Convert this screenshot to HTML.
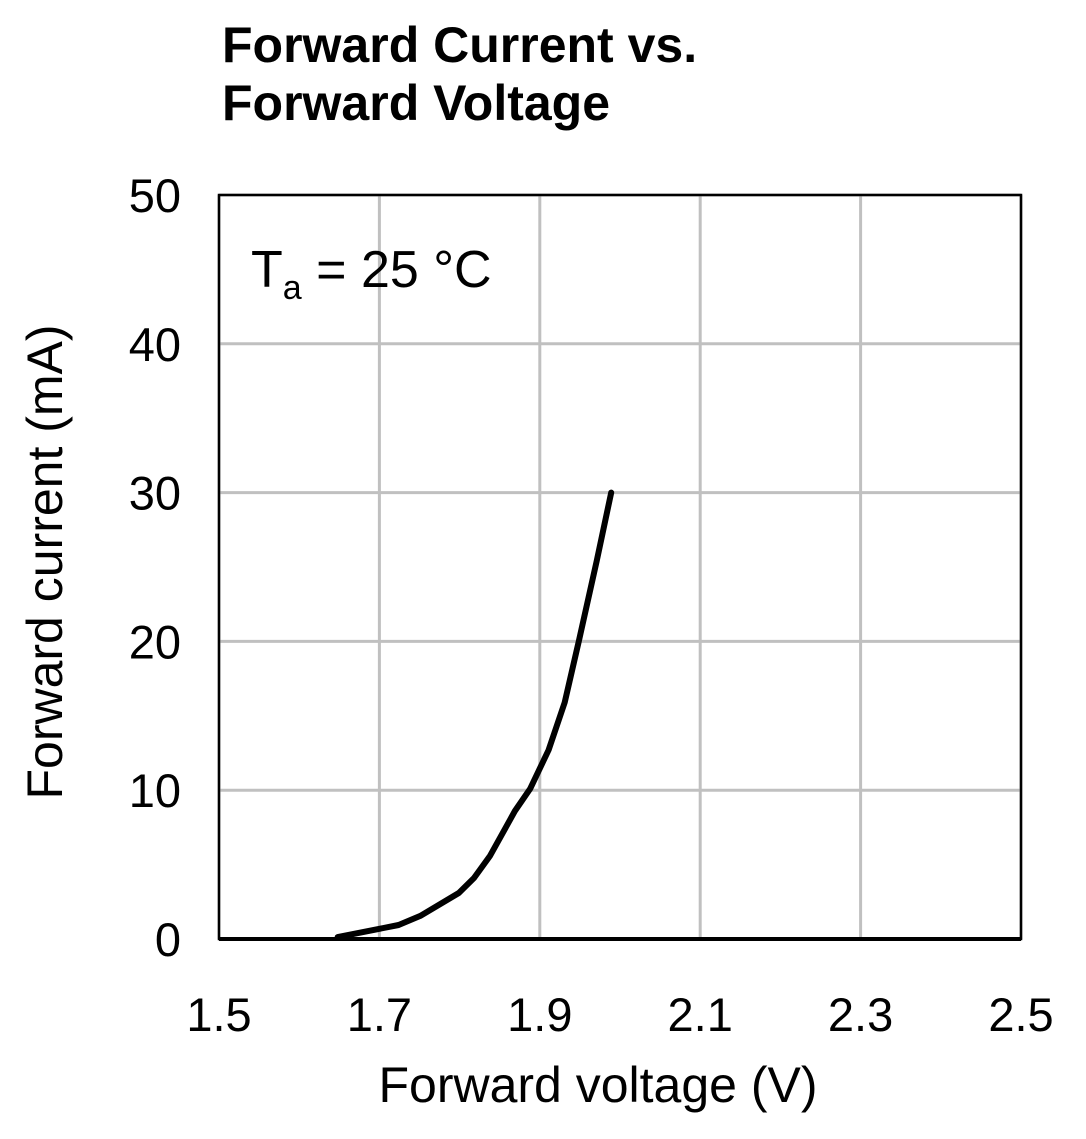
<!DOCTYPE html>
<html><head><meta charset="utf-8"><style>
body{margin:0;background:#fff;}
svg{display:block;font-family:"Liberation Sans",Arial,sans-serif;}
</style></head><body>
<svg id="chart" width="1086" height="1139" viewBox="0 0 1086 1139">
<text x="222" y="62" font-size="50" font-weight="bold">Forward Current vs.</text>
<text x="222" y="120" font-size="50" font-weight="bold">Forward Voltage</text>
<g id="grid"></g>
<g id="ticks"></g>
<rect x="219" y="195" width="802" height="744" fill="none" stroke="#000" stroke-width="2.5"/>
<line x1="219" y1="939" x2="1021" y2="939" stroke="#000" stroke-width="4"/>
<text x="251" y="287" font-size="52">T<tspan font-size="34" dy="12">a</tspan><tspan dy="-12"> = 25 °C</tspan></text>
<path id="curve" fill="none" stroke="#000" stroke-width="6" stroke-linejoin="round" stroke-linecap="round"/>
<text x="598" y="1102" font-size="50" text-anchor="middle">Forward voltage (V)</text>
<text transform="translate(62,562) rotate(-90)" font-size="50" text-anchor="middle">Forward current (mA)</text>
</svg>
<script>
const xTicks=[1.5,1.7,1.9,2.1,2.3,2.5];
const xTickLabels=["1.5","1.7","1.9","2.1","2.3","2.5"];
const yTicks=[0,10,20,30,40,50];
const yTickLabels=["0","10","20","30","40","50"];
const voltage=[1.648,1.724,1.751,1.799,1.818,1.838,1.869,1.888,1.911,1.931,1.949,1.971,1.989];
const current=[0.13,0.94,1.55,3.09,4.1,5.6,8.6,10.1,12.7,15.9,20.1,25.4,30.0];
const X=v=>219+(v-1.5)/1.0*802;
const Y=i=>939-i/50*744;
const NS="http://www.w3.org/2000/svg";
const grid=document.getElementById('grid'),ticks=document.getElementById('ticks');
function mk(tag,at,parent){const e=document.createElementNS(NS,tag);for(const k in at)e.setAttribute(k,at[k]);parent.appendChild(e);return e;}
xTicks.forEach((v,i)=>{
 const g=mk('line',{x1:X(v),x2:X(v),y1:195,y2:939,stroke:'#c0c0c0','stroke-width':3},grid);
 
 
 const t=mk('text',{x:X(v),y:1031,'font-size':47,'text-anchor':'middle'},ticks);
 t.textContent=xTickLabels[i];
 
 
});
yTicks.forEach((v,i)=>{
 const g=mk('line',{x1:219,x2:1021,y1:Y(v),y2:Y(v),stroke:'#c0c0c0','stroke-width':3},grid);
 
 
 const t=mk('text',{x:181,y:Y(v)+17,'font-size':47,'text-anchor':'end'},ticks);
 t.textContent=yTickLabels[i];
 
 
});
document.getElementById('curve').setAttribute('d',voltage.map((v,i)=>(i?'L':'M')+X(v).toFixed(1)+' '+Y(current[i]).toFixed(1)).join(' '));
</script>
</body></html>
